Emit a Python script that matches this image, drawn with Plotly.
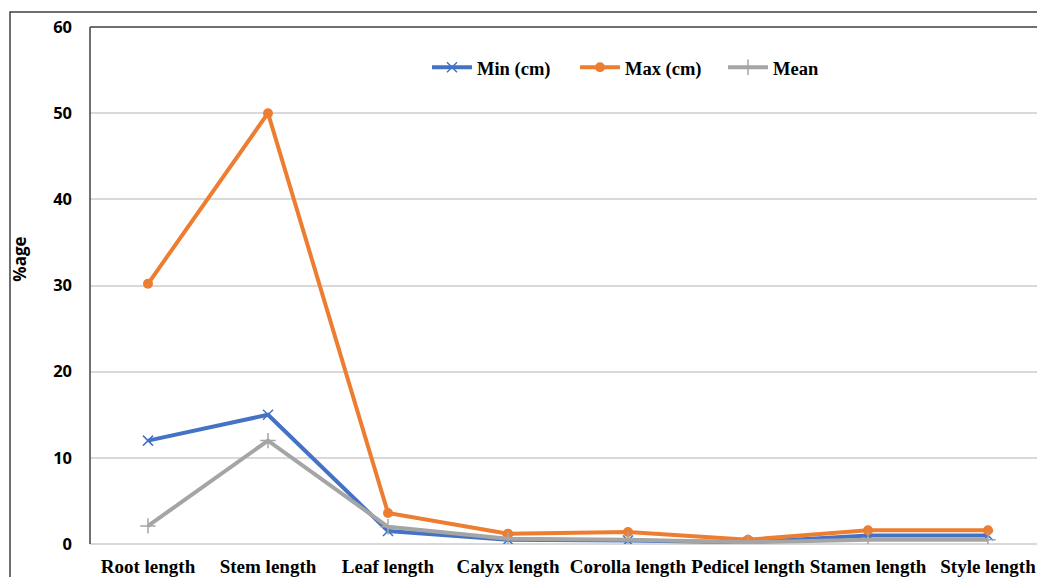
import plotly.graph_objects as go

categories = ["Root length", "Stem length", "Leaf length", "Calyx length",
              "Corolla length", "Pedicel length", "Stamen length", "Style length"]
min_cm = [12.0, 15.0, 1.5, 0.5, 0.4, 0.2, 1.0, 1.0]
max_cm = [30.2, 50.0, 3.6, 1.2, 1.4, 0.5, 1.6, 1.6]
mean_v = [2.1, 12.0, 2.0, 0.6, 0.5, 0.2, 0.5, 0.5]
y_ticks = [0, 10, 20, 30, 40, 50, 60]

serif = "Liberation Serif"
sans = "Open Sans"

W, H = 1029, 569
L, T, B = 82, 19, 30
pw = W - L
ph = H - T - B

fig = go.Figure()
fig.add_trace(go.Scatter(
    x=categories, y=min_cm, name="Min (cm)", mode="lines+markers",
    line=dict(color="#4472C4", width=4),
    marker=dict(symbol="x-thin", size=10, line=dict(color="#4472C4", width=1.5))))
fig.add_trace(go.Scatter(
    x=categories, y=max_cm, name="Max (cm)", mode="lines+markers",
    line=dict(color="#ED7D31", width=4),
    marker=dict(symbol="circle", size=10, color="#ED7D31")))
fig.add_trace(go.Scatter(
    x=categories, y=mean_v, name="Mean", mode="lines+markers",
    line=dict(color="#A5A5A5", width=4),
    marker=dict(symbol="cross-thin", size=11, line=dict(color="#A5A5A5", width=1.5))))

fig.update_layout(
    width=W, height=H,
    margin=dict(l=L, r=0, t=T, b=B),
    paper_bgcolor="white", plot_bgcolor="white",
    showlegend=True,
    legend=dict(orientation="h", x=(433 - 8 - L - 6) / pw, y=1 - (68 - 27) / ph,
                xanchor="left", yanchor="middle",
                font=dict(family=serif, size=18.5, color="#000000", weight="bold"),
                bgcolor="rgba(0,0,0,0)", itemwidth=40,
                entrywidth=93, entrywidthmode="pixels"),
    xaxis=dict(
        type="category", range=[-0.5 + 2 / 120, -0.5 + 2 / 120 + pw / 120],
        showgrid=False, zeroline=False, showline=False, ticks="",
        tickfont=dict(family=serif, size=19, color="#000000", weight="bold"),
        ticklabelstandoff=9),
    yaxis=dict(
        range=[0, 60], tickvals=y_ticks,
        showgrid=True, gridcolor="#D9D9D9", gridwidth=1.5,
        zeroline=True, zerolinecolor="#D9D9D9", zerolinewidth=1.5,
        showline=False, ticks="",
        tickfont=dict(family=sans, size=16.5, color="#000000", weight="bold"),
        ticklabelstandoff=17),
    annotations=[
        dict(text="%age", xref="paper", yref="paper",
             x=-(L - 12) / pw, y=1 - (261 - 27) / ph, xanchor="center", yanchor="middle",
             textangle=-90, showarrow=False,
             font=dict(family=sans, size=17, color="#000000", weight="bold")),
    ],
    shapes=[
        # outer frame
        dict(type="rect", xref="paper", yref="paper",
             x0=-(L - 2) / pw, x1=1.05, y0=-0.2, y1=1 + 15 / ph,
             line=dict(color="#404040", width=1.5), layer="below"),
        # inner frame left and top
        dict(type="line", xref="paper", yref="paper", x0=0, x1=0, y0=0, y1=1,
             line=dict(color="#404040", width=1.5)),
        dict(type="line", xref="paper", yref="paper", x0=0, x1=1.05, y0=1, y1=1,
             line=dict(color="#404040", width=1.5)),
    ],
)

fig.write_html("out.html")
